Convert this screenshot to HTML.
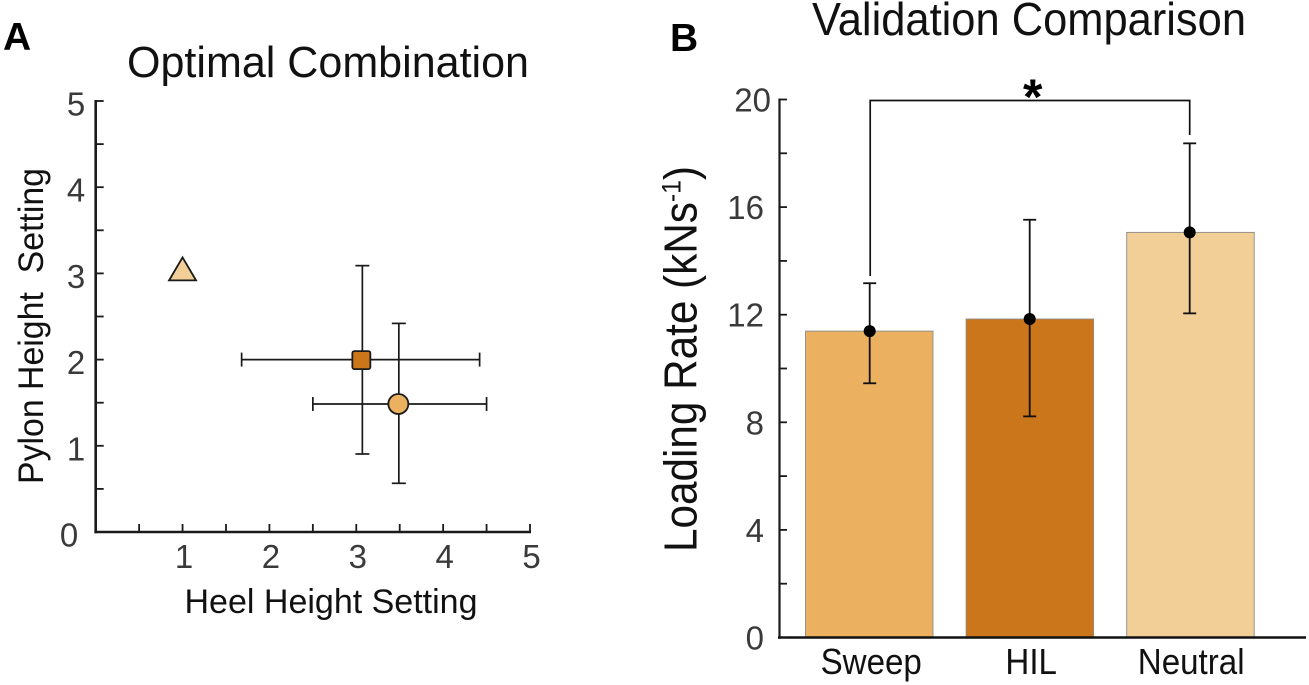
<!DOCTYPE html>
<html lang="en">
<head>
<meta charset="utf-8">
<title>Optimal Combination and Validation Comparison</title>
<style>
html,body{margin:0;padding:0;background:#fff;}
svg{display:block;font-family:"Liberation Sans",Arial,sans-serif;}
</style>
</head>
<body>
<svg id="fig" width="1309" height="685" viewBox="0 0 1309 685" xmlns="http://www.w3.org/2000/svg">
  <rect x="0" y="0" width="1309" height="685" fill="#fff"/>
  <text x="3" y="50" font-size="39" font-weight="bold" fill="#000">A</text>
  <text x="127" y="77" font-size="44" fill="#111" textLength="402" lengthAdjust="spacingAndGlyphs">Optimal Combination</text>
  <text transform="translate(43,484) rotate(-90)" font-size="35" fill="#111" textLength="316" lengthAdjust="spacingAndGlyphs" xml:space="preserve">Pylon Height  Setting</text>
  <text x="184.5" y="613" font-size="34" fill="#111" textLength="293" lengthAdjust="spacingAndGlyphs">Heel Height Setting</text>
  <text x="670" y="51" font-size="39" font-weight="bold" fill="#000">B</text>
  <text x="812" y="35" font-size="46" fill="#111" textLength="434" lengthAdjust="spacingAndGlyphs">Validation Comparison</text>
  <text transform="translate(696.5,552) rotate(-90)" font-size="46" fill="#111" textLength="386" lengthAdjust="spacingAndGlyphs">Loading Rate (kNs<tspan font-size="27" dy="-16">-1</tspan><tspan dy="16">)</tspan></text>
  <g id="panelA"></g>
  <g id="panelB"></g>
</svg>
<script>
// Panel A data
const heelTicks = [0.5, 1, 1.5, 2, 2.5, 3, 3.5, 4, 4.5, 5];
const pylonTicks = [0.5, 1, 1.5, 2, 2.5, 3, 3.5, 4, 4.5, 5];
const heelTickLabels = [1, 2, 3, 4, 5];
const pylonTickLabels = [0, 1, 2, 3, 4, 5];
const comboNames = ['hil', 'sweep', 'neutral'];
const comboHeel = [3.07, 3.49, 1];
const comboPylon = [2.0, 1.485, 3];
const comboHeelLow = [1.68, 2.5, null];
const comboHeelHigh = [4.42, 4.5, null];
const comboPylonLow = [0.905, 0.565, null];
const comboPylonHigh = [3.09, 2.42, null];

// Panel B data
const categories = ['Sweep', 'HIL', 'Neutral'];
const loadingMeans = [11.39, 11.84, 15.06];
const loadingLow = [9.45, 8.22, 12.05];
const loadingHigh = [13.17, 15.53, 18.37];
const loadingTicks = [0, 2, 4, 6, 8, 10, 12, 14, 16, 18, 20];
const loadingTickLabels = [0, 4, 8, 12, 16, 20];

const NS = 'http://www.w3.org/2000/svg';
const INK = '#1a1a1a';
function mk(parent, tag, attrs, text) {
  const el = document.createElementNS(NS, tag);
  for (const k in attrs) el.setAttribute(k, attrs[k]);
  if (text !== undefined) el.textContent = text;
  parent.appendChild(el);
  return el;
}
function ln(parent, x1, y1, x2, y2, w, color) {
  return mk(parent, 'line', {x1, y1, x2, y2, stroke: color || INK, 'stroke-width': w});
}

// Axis functions
const xA = v => 95.7 + v * 86.86;
const yA = v => 532 - v * 86.2;
const yB = v => 637.5 - v * 26.9;
const catColors = ['#ebb161', '#cb761b', '#f3cf98'];
const catCenters = i => 869.7 + i * 160;
const barLeft = i => 805.5 + i * 160.6;
const barWidth = 127.5;
const TICK_FILL = '#3a3a3a';

const A = document.getElementById('panelA');
const B = document.getElementById('panelB');
let el;

// Panel A axes
el = ln(A, xA(0), yA(5) - 1, xA(0), yA(0) + 1.3, 2.6);


el = ln(A, xA(0) - 1.3, yA(0), xA(5) + 1, yA(0), 2.6);


heelTicks.forEach(v => {
  const t = ln(A, xA(v), yA(0), xA(v), yA(0) - 8, 1.8);
  
  
});
pylonTicks.forEach(v => {
  const t = ln(A, xA(0), yA(v), xA(0) + 8, yA(v), 1.8);
  
  
});
heelTickLabels.forEach(v => {
  const t = mk(A, 'text', {x: xA(v) + 1.5, y: 568, 'font-size': 33, fill: TICK_FILL, 'text-anchor': 'middle'}, v);
  
  
});
pylonTickLabels.forEach(v => {
  const t = mk(A, 'text', {x: v === 0 ? 69 : 76, y: yA(v) + 14.5, 'font-size': 33, fill: TICK_FILL, 'text-anchor': 'middle'}, v);
  
  
});

// Panel A error bars and markers
comboNames.forEach((name, i) => {
  if (comboHeelLow[i] !== null) {
    const g = mk(A, 'g', {});
    
    
    const cx = xA(comboHeel[i]), cy = yA(comboPylon[i]);
    ln(g, xA(comboHeelLow[i]), cy, xA(comboHeelHigh[i]), cy, 1.7);
    ln(g, xA(comboHeelLow[i]), cy - 7, xA(comboHeelLow[i]), cy + 7, 1.7);
    ln(g, xA(comboHeelHigh[i]), cy - 7, xA(comboHeelHigh[i]), cy + 7, 1.7);
    ln(g, cx, yA(comboPylonLow[i]), cx, yA(comboPylonHigh[i]), 1.7);
    ln(g, cx - 7, yA(comboPylonLow[i]), cx + 7, yA(comboPylonLow[i]), 1.7);
    ln(g, cx - 7, yA(comboPylonHigh[i]), cx + 7, yA(comboPylonHigh[i]), 1.7);
  }
});
comboNames.forEach((name, i) => {
  const cx = xA(comboHeel[i]), cy = yA(comboPylon[i]);
  let m;
  if (name === 'hil') {
    m = mk(A, 'rect', {x: cx - 10, y: cy - 8.5, width: 18, height: 18, rx: 2, fill: catColors[1], stroke: INK, 'stroke-width': 1.8});
  } else if (name === 'sweep') {
    m = mk(A, 'circle', {cx: cx - 0.5, cy: cy, r: 10, fill: catColors[0], stroke: INK, 'stroke-width': 1.8});
  } else {
    m = mk(A, 'polygon', {points: `${cx},${cy - 16} ${cx + 13.5},${cy + 7} ${cx - 13.5},${cy + 7}`, fill: catColors[2], stroke: INK, 'stroke-width': 1.8, 'stroke-linejoin': 'miter'});
  }
  
  
});

// Panel B bars
categories.forEach((c, i) => {
  const b = mk(B, 'rect', {x: barLeft(i), y: yB(loadingMeans[i]), width: barWidth, height: yB(0) - yB(loadingMeans[i]), fill: catColors[i], stroke: '#8a8a8a', 'stroke-width': 0.9});
  
  
});

// Panel B axes
el = ln(B, 779.5, yB(20) - 1, 779.5, yB(0) + 1.3, 2.2);


el = ln(B, 778, yB(0), 1306, yB(0), 2.6, '#111');


loadingTicks.forEach(v => {
  const t = ln(B, 779.5, yB(v), 787, yB(v), 1.8);
  
  
});
loadingTickLabels.forEach(v => {
  const t = mk(B, 'text', {x: v === 20 ? 771 : 764, y: yB(v) + 12, 'font-size': 33, fill: TICK_FILL, 'text-anchor': 'end'}, v);
  
  
});
categories.forEach((c, i) => {
  const t = mk(B, 'text', {x: catCenters(i) + 1.5, y: 674, 'font-size': 36, fill: '#111', 'text-anchor': 'middle'}, c);
  
  
  t.setAttribute('textLength', t.getComputedTextLength() * 0.92);
  t.setAttribute('lengthAdjust', 'spacingAndGlyphs');
});

// Panel B error bars and mean points
categories.forEach((c, i) => {
  const g = mk(B, 'g', {});
  
  
  const cx = catCenters(i);
  ln(g, cx, yB(loadingLow[i]), cx, yB(loadingHigh[i]), 1.8, '#111');
  ln(g, cx - 6.5, yB(loadingLow[i]), cx + 6.5, yB(loadingLow[i]), 1.8, '#111');
  ln(g, cx - 6.5, yB(loadingHigh[i]), cx + 6.5, yB(loadingHigh[i]), 1.8, '#111');
  const p = mk(B, 'circle', {cx: cx, cy: yB(loadingMeans[i]), r: 6, fill: '#000'});
  
  
});

// Significance bracket between Sweep and Neutral
el = mk(B, 'polyline', {points: `${catCenters(0) + 0.5},276 ${catCenters(0) + 0.5},${yB(20) + 1} ${catCenters(2)},${yB(20) + 1} ${catCenters(2)},135`, fill: 'none', stroke: '#111', 'stroke-width': 1.7});


el = mk(B, 'text', {x: 1032.7, y: 114, 'font-size': 50, 'font-weight': 'bold', fill: '#000', 'text-anchor': 'middle'}, '*');


</script>
</body>
</html>
